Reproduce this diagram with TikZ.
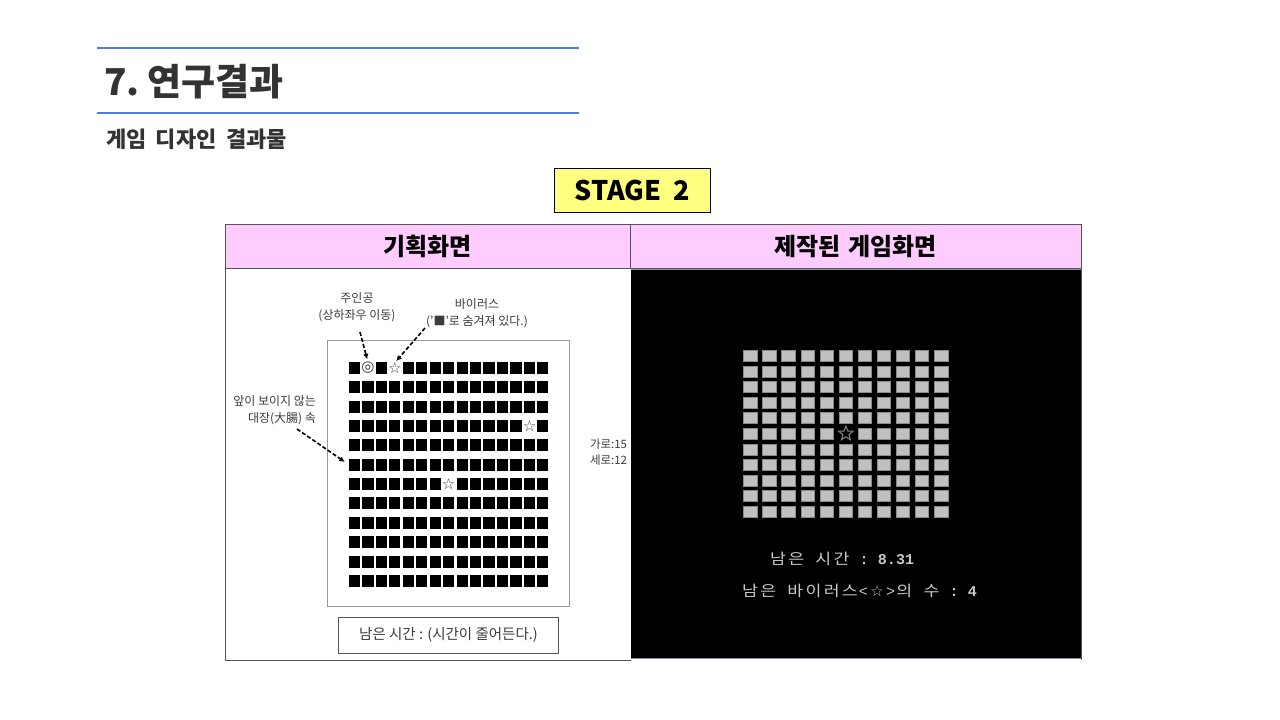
\documentclass[tikz,border=0pt]{standalone}
\usepackage{fontspec}
\setmainfont{Noto Sans CJK KR}
\newfontfamily\symf{DejaVu Sans}
\newfontfamily\monof{Liberation Mono}
\newfontfamily\consf{Noto Sans CJK KR}[FakeStretch=1.15]
\usetikzlibrary{arrows.meta,shapes.geometric}
\definecolor{blueln}{HTML}{4F7FDB}
\definecolor{titlegray}{HTML}{333333}
\definecolor{hdrpink}{HTML}{FFCCFF}
\definecolor{stageyellow}{HTML}{FFFF80}
\definecolor{tableln}{HTML}{555555}
\definecolor{panelln}{HTML}{8296AA}
\definecolor{notegray}{HTML}{3C3C3C}
\definecolor{consgray}{HTML}{C8C8C8}
\definecolor{sqgray}{HTML}{C0C0C0}
\definecolor{sqedge}{HTML}{8A8A8A}
\newcommand\hcell[1]{\makebox[18.14pt][c]{#1}}
\newcommand\acell[1]{\makebox[9.07pt][c]{#1}}
\begin{document}
\begin{tikzpicture}[x=1pt,y=-1pt,
  every node/.style={inner sep=0pt,outer sep=0pt},
  bluerule/.style={draw=blueln,line width=2pt},
  notetext/.style={font=\fontsize{12}{17}\selectfont,text=notegray},
  lsq/.style={fill=black,minimum width=11.2pt,minimum height=12pt},
  lsym/.style={font=\symf\fontsize{15}{15}\selectfont,text=notegray},
  rsq/.style={fill=sqgray,draw=sqedge,line width=0.8pt,minimum width=13.5pt,minimum height=11pt},
  darr/.style={draw=black,line width=1.6pt,dash pattern=on 4pt off 2.2pt,-{Latex[length=5.5pt,width=5.5pt]}},
  hdrtext/.style={font=\fontsize{24}{26}\selectfont\bfseries,text=black},
  constext/.style={font=\consf\fontsize{15}{17}\selectfont,text=consgray}]
\useasboundingbox (0,0) rectangle (1280,720);
\fill[white] (0,0) rectangle (1280,720);
% title block
\draw[bluerule] (97,48) -- (579,48);
\draw[bluerule] (97,113) -- (579,113);
\node[anchor=west,font=\fontsize{37}{40}\selectfont\bfseries,text=titlegray] (title) at (104,82) {7.\hspace{-0.1em} 연구결과};
\node[anchor=west,font=\fontsize{22}{24}\selectfont\bfseries,text=titlegray] (sub) at (106,139) {게임\hspace{0.2em} 디자인\hspace{0.2em} 결과물};
% stage label
\node[draw=black,line width=0.8pt,fill=stageyellow,minimum width=156pt,minimum height=44pt,font=\fontsize{27}{30}\selectfont\bfseries] (stage) at (632,190) {STAGE\hspace{0.2em} 2};
% table
\fill[hdrpink] (225,224) rectangle (1081,268);
\fill[black] (631,270) rectangle (1081,658);
\draw[panelln,line width=1.5pt] (631,269.5) -- (1081,269.5);
\draw[panelln,line width=1.5pt] (631,658.5) -- (1081,658.5);
\draw[tableln,line width=1pt] (225,224) -- (1081,224);
\draw[tableln,line width=1pt] (225,268) -- (1081,268);
\draw[tableln,line width=1pt] (630.5,224) -- (630.5,268);
\draw[tableln,line width=1pt] (225,224) -- (225,660) -- (631,660);
\draw[tableln,line width=1pt] (1081,224) -- (1081,660);
\node[hdrtext] (h1) at (427.5,246) {기획화면};
\node[hdrtext] (h2) at (855.5,246) {제작된\hspace{0.12em} 게임화면};
% left planning sketch
\draw[draw=gray!80,line width=0.9pt] (327,340) rectangle (569.5,606.5);
\foreach \r in {1,...,12}{
  \foreach \c in {1,...,15}{
    \pgfmathsetmacro\cx{349+(\c-1)*13.45+5.5}
    \pgfmathsetmacro\cy{368+(\r-1)*19.35}
    \pgfmathtruncatemacro\spc{or(and(\r==1,or(\c==2,\c==4)),or(and(\r==4,\c==14),and(\r==7,\c==8)))}
    \ifnum\spc=0
      \node[lsq] (L-\r-\c) at (\cx,\cy) {};
    \fi
  }
}
\node[lsym] (hero) at (368,368) {◎};
\node[lsym] (v1) at (394.9,368) {☆};
\node[lsym] (v2) at (529.7,426) {☆};
\node[lsym] (v3) at (448.5,484.1) {☆};
\node[notetext,align=center] (herolbl) at (357,307.5) {주인공\\(상하좌우 이동)};
\node[notetext,align=center] (viruslbl) at (477,313) {바이러스\\('■'로 숨겨져 있다.)};
\node[notetext,align=right,anchor=east] (bowellbl) at (316,410) {앞이 보이지 않는\\대장(大腸) 속};
\node[notetext,align=left,anchor=west,font=\fontsize{11.5}{15.5}\selectfont] (sizelbl) at (590,452) {가로:15\\세로:12};
\coordinate (a1s) at (360,332);
\coordinate (a2s) at (425,328);
\coordinate (a3s) at (297,429);
\draw[darr,shorten >=3pt] (a1s) -- (hero.north);
\draw[darr,shorten >=2pt] (a2s) -- (v1.north);
\draw[darr,shorten >=5pt] (a3s) -- (L-6-1.west);
\node[draw=tableln,line width=1pt,minimum width=220pt,minimum height=36pt,font=\fontsize{14.5}{16}\selectfont,text=notegray] (timebox) at (448.5,635) {남은 시간 : (시간이 줄어든다.)};
% right game screen
\foreach \r in {1,...,11}{
  \foreach \c in {1,...,11}{
    \pgfmathsetmacro\cx{750.5+(\c-1)*19.07}
    \pgfmathsetmacro\cy{355.8+(\r-1)*15.6}
    \pgfmathtruncatemacro\spc{and(\r==6,\c==6)}
    \ifnum\spc=0
      \node[rsq] (R-\r-\c) at (\cx,\cy) {};
    \fi
  }
}
\node[star,star points=5,star point ratio=2.3,draw=gray,line width=1.1pt,minimum size=15pt] (rstar) at (845.9,433.6) {};
\node[constext,anchor=west] (t1) at (769,559) {\hcell{남}\hcell{은}\acell{}\hcell{시}\hcell{간}\acell{}\acell{\monof\bfseries :}\acell{}\acell{\monof\bfseries 8}\acell{\monof\bfseries .}\acell{\monof\bfseries 3}\acell{\monof\bfseries 1}};
\node[constext,anchor=west] (t2) at (741,591) {\hcell{남}\hcell{은}\acell{}\hcell{바}\hcell{이}\hcell{러}\hcell{스}\acell{\monof <}\hcell{\symf ☆}\acell{\monof >}\hcell{의}\acell{}\hcell{수}\acell{}\acell{\monof\bfseries :}\acell{}\acell{\monof\bfseries 4}};
\end{tikzpicture}
\end{document}
